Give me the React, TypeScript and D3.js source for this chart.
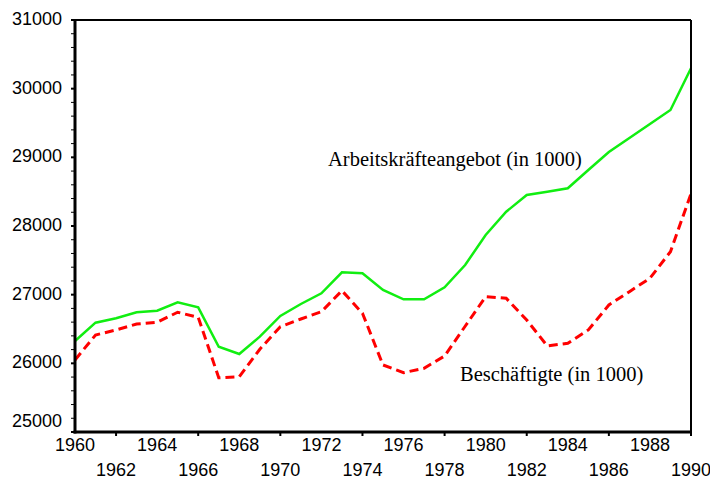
import * as d3 from "d3";
import React from "react";

const years = [
  1960, 1961, 1962, 1963, 1964, 1965, 1966, 1967, 1968, 1969, 1970, 1971,
  1972, 1973, 1974, 1975, 1976, 1977, 1978, 1979, 1980, 1981, 1982, 1983,
  1984, 1985, 1986, 1987, 1988, 1989, 1990,
];
const angebot = [
  26325, 26592, 26656, 26744, 26767, 26889, 26816, 26242, 26136, 26388, 26690,
  26864, 27020, 27326, 27311, 27068, 26933, 26933, 27107, 27432, 27869, 28208,
  28452, 28500, 28549, 28816, 29078, 29282, 29486, 29689, 30297,
];
const beschaeftigte = [
  26049, 26413, 26486, 26573, 26598, 26744, 26670, 25790, 25806, 26205, 26534,
  26646, 26752, 27058, 26729, 25976, 25864, 25928, 26107, 26540, 26971, 26947,
  26631, 26253, 26292, 26486, 26850, 27044, 27239, 27626, 28470,
];
const yTicks = [25000, 26000, 27000, 28000, 29000, 30000, 31000];
const xTopLabels = [1960, 1964, 1968, 1972, 1976, 1980, 1984, 1988];
const xBottomLabels = [1962, 1966, 1970, 1974, 1978, 1982, 1986, 1990];

const width = 710;
const height = 480;
const m = { left: 75, right: 19, top: 20, bottom: 48 };

const App: React.FC = () => {
  const x = d3
    .scaleLinear()
    .domain([1960, 1990])
    .range([m.left, width - m.right]);
  const y = d3
    .scaleLinear()
    .domain([25000, 31000])
    .range([height - m.bottom, m.top]);

  const line = d3
    .line<number>()
    .x((_, i) => x(years[i]))
    .y((d) => y(d));

  const minorTicks = d3.range(25000, 31001, 200);
  const sans = "'Liberation Sans', Arial, sans-serif";
  const serif = "'Liberation Serif', 'Times New Roman', serif";

  return (
    <svg
      width={width}
      height={height}
      style={{ position: "absolute", left: 0, top: 0, background: "#fff" }}
    >
      {/* y ticks */}
      {minorTicks.map((t) => (
        <line
          key={"mt" + t}
          x1={m.left - 4}
          x2={m.left}
          y1={y(t)}
          y2={y(t)}
          stroke="#000"
          strokeWidth={yTicks.includes(t) ? 2 : 1}
        />
      ))}
      {yTicks.map((t) => (
        <text
          key={"yl" + t}
          x={62}
          y={t === 25000 ? y(t) - 11 : y(t) - 1}
          textAnchor="end"
          dominantBaseline="central"
          fontFamily={sans}
          fontSize={18}
          fill="#000"
        >
          {t}
        </text>
      ))}

      {/* x ticks */}
      {xBottomLabels.map((t) => (
        <line
          key={"xt" + t}
          x1={x(t)}
          x2={x(t)}
          y1={y(25000)}
          y2={y(25000) + 4}
          stroke="#000"
          strokeWidth={2}
        />
      ))}
      {xTopLabels.map((t) => (
        <text
          key={"xa" + t}
          x={x(t)}
          y={451}
          textAnchor="middle"
          fontFamily={sans}
          fontSize={18}
          fill="#000"
        >
          {t}
        </text>
      ))}
      {xBottomLabels.map((t) => (
        <text
          key={"xb" + t}
          x={x(t)}
          y={476}
          textAnchor="middle"
          fontFamily={sans}
          fontSize={18}
          fill="#000"
        >
          {t}
        </text>
      ))}

      {/* series */}
      <path
        d={line(angebot) || ""}
        fill="none"
        stroke="#11ee11"
        strokeWidth={2.5}
      />
      <path
        d={line(beschaeftigte) || ""}
        fill="none"
        stroke="#ff0000"
        strokeWidth={3}
        strokeDasharray="9,5"
      />

      {/* frame */}
      <line x1={x(1960)} x2={x(1990)} y1={y(31000)} y2={y(31000)} stroke="#000" strokeWidth={2} />
      <line x1={x(1990)} x2={x(1990)} y1={y(31000)} y2={y(25000)} stroke="#000" strokeWidth={2} />
      <line x1={x(1960)} x2={x(1960)} y1={y(31000) - 1} y2={y(25000) + 1.5} stroke="#000" strokeWidth={3} />
      <line x1={x(1960) - 1.5} x2={x(1990) + 1} y1={y(25000)} y2={y(25000)} stroke="#000" strokeWidth={3} />

      {/* labels */}
      <text x={328} y={166} fontFamily={serif} fontSize={20.5} fill="#000">
        Arbeitskräfteangebot (in 1000)
      </text>
      <text x={460} y={381} fontFamily={serif} fontSize={20.5} fill="#000">
        Beschäftigte (in 1000)
      </text>
    </svg>
  );
};

export default App;
